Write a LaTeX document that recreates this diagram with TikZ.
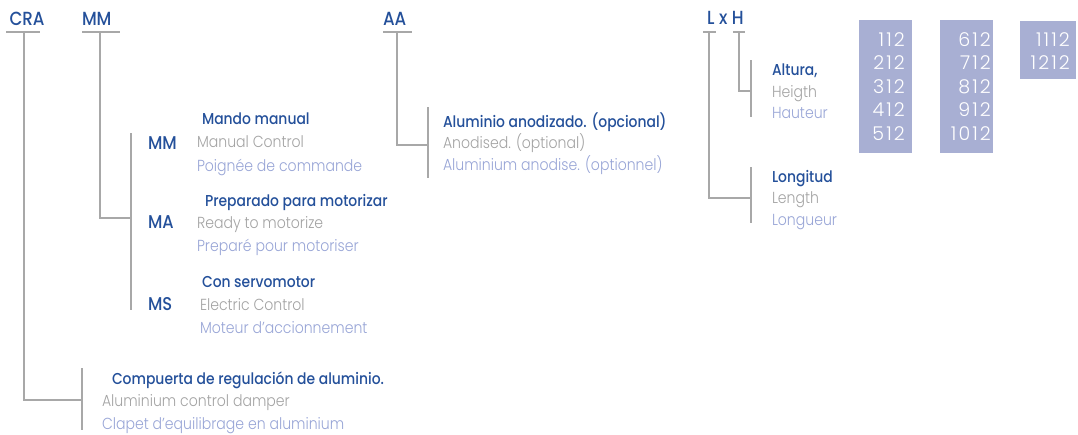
\documentclass[tikz,border=0pt]{standalone}
\usepackage{fontspec}
\IfFontExistsTF{Poppins Light}
  {\newfontfamily\lightfont[FakeStretch=0.88]{Poppins Light}
   \newfontfamily\numfont[LetterSpace=11]{Poppins Light}}
  {\newfontfamily\lightfont[FakeStretch=0.88]{Poppins}
   \newfontfamily\numfont[LetterSpace=11]{Poppins}}
\IfFontExistsTF{Poppins Medium}
  {\newfontfamily\mediumfont[FakeStretch=0.88]{Poppins Medium}}
  {\newfontfamily\mediumfont[FakeStretch=0.88]{Poppins}}
\definecolor{navy}{HTML}{24509A}
\definecolor{greytext}{HTML}{A3A3A3}
\definecolor{lavtext}{HTML}{98A5D6}
\definecolor{tabfill}{HTML}{A8AFD3}
\definecolor{rule}{HTML}{A8A8A8}
\tikzset{
  txt/.style={anchor=base west, inner sep=0pt, outer sep=0pt},
  codehead/.style={txt, text=navy, font=\mediumfont\fontsize{19}{19}\selectfont},
  codesub/.style={txt, text=navy, font=\mediumfont\fontsize{18.5}{18.5}\selectfont},
  es/.style={txt, text=navy, font=\mediumfont\fontsize{15.8}{15.8}\selectfont},
  en/.style={txt, text=greytext, font=\lightfont\fontsize{16}{16}\selectfont},
  fr/.style={txt, text=lavtext, font=\lightfont\fontsize{16}{16}\selectfont},
  num/.style={anchor=base east, inner sep=0pt, text=white, font=\numfont\fontsize{19}{19}\selectfont},
  link/.style={draw=rule, line width=1.2pt},
  tab/.style={fill=tabfill, draw=none},
}
\begin{document}
\begin{tikzpicture}[x=1pt, y=-1pt]
\useasboundingbox (0,0) rectangle (1078,434);

% --- reference code headings ---
\node[codehead] (cra) at (9.5,25) {CRA};
\node[codehead] (mmhead) at (82,25) {MM};
\node[codehead] (aa) at (383,25) {AA};
\node[codehead] (lxh) at (707,24) {L\hspace{4.6pt}x\hspace{4.6pt}H};

% underlines of the headings
\draw[link] (6,32) -- (40,32);
\draw[link] (82,32) -- (120,32);
\draw[link] (383,32) -- (412,32);
\draw[link] (703,32) -- (716,32);
\draw[link] (733,32) -- (745,32);

% --- bracket end points ---
\coordinate (craTop) at (24,32);
\coordinate (craBend) at (24,400);
\coordinate (craEnd) at (82,400);
\coordinate (craBarA) at (82,368);
\coordinate (craBarB) at (82,430);

\coordinate (mmTop) at (100,32);
\coordinate (mmBend) at (100,218);
\coordinate (mmEnd) at (131,218);
\coordinate (mmBarA) at (131,133);
\coordinate (mmBarB) at (131,310);

\coordinate (aaTop) at (397,32);
\coordinate (aaBend) at (397,145);
\coordinate (aaEnd) at (428,145);
\coordinate (aaBarA) at (428,107);
\coordinate (aaBarB) at (428,178);

\coordinate (lTop) at (709,32);
\coordinate (lBend) at (709,198);
\coordinate (lEnd) at (751,198);
\coordinate (lBarA) at (751,167);
\coordinate (lBarB) at (751,223);

\coordinate (hTop) at (739,32);
\coordinate (hBend) at (739,91);
\coordinate (hEnd) at (751,91);
\coordinate (hBarA) at (751,60);
\coordinate (hBarB) at (751,117);

% --- brackets ---
\draw[link] (craTop) -- (craBend) -- (craEnd);
\draw[link] (craBarA) -- (craBarB);
\draw[link] (mmTop) -- (mmBend) -- (mmEnd);
\draw[link] (mmBarA) -- (mmBarB);
\draw[link] (aaTop) -- (aaBend) -- (aaEnd);
\draw[link] (aaBarA) -- (aaBarB);
\draw[link] (lTop) -- (lBend) -- (lEnd);
\draw[link] (lBarA) -- (lBarB);
\draw[link] (hTop) -- (hBend) -- (hEnd);
\draw[link] (hBarA) -- (hBarB);

% --- control options ---
\node[codesub] (mm) at (148,149) {MM};
\node[es] (mmes) at (202,124) {Mando manual};
\node[en] (mmen) at (197,147) {Manual Control};
\node[fr] (mmfr) at (197,171) {Poignée de commande};

\node[codesub] (ma) at (148,228) {MA};
\node[es] (maes) at (205,206) {Preparado para motorizar};
\node[en] (maen) at (197,228) {Ready to motorize};
\node[fr] (mafr) at (197,251) {Preparé pour motoriser};

\node[codesub] (ms) at (148,310) {MS};
\node[es] (mses) at (202,287) {Con servomotor};
\node[en] (msen) at (200,310) {Electric Control};
\node[fr] (msfr) at (200,333) {Moteur d’accionnement};

% --- product ---
\node[es] (craes) at (112,384) {Compuerta de regulación de aluminio.};
\node[en] (craen) at (102,406) {Aluminium control damper};
\node[fr] (crafr) at (102,429) {Clapet d’equilibrage en aluminium};

% --- finish ---
\node[es] (aaes) at (443,127) {Aluminio anodizado. (opcional)};
\node[en] (aaen) at (443,148) {Anodised. (optional)};
\node[fr] (aafr) at (443,170) {Aluminium anodise. (optionnel)};

% --- dimensions ---
\node[es] (hes) at (772,75) {Altura,};
\node[en] (hen) at (772,97) {Heigth};
\node[fr] (hfr) at (772,118) {Hauteur};

\node[es] (les) at (772,182) {Longitud};
\node[en] (len) at (772,203) {Length};
\node[fr] (lfr) at (772,225) {Longueur};

% --- size table ---
\fill[tab] (859,20) rectangle (912,153);
\fill[tab] (940,20) rectangle (993,153);
\fill[tab] (1020,21) rectangle (1076,79);

% the tracking adds a trailing gap, so the right edge sits a little further out
\foreach \v [count=\i] in {112,212,312,412,512}
  \node[num] (ca\i) at (905,{46+23.5*(\i-1)}) {\v};
\foreach \v [count=\i] in {612,712,812,912,1012}
  \node[num] (cb\i) at (991,{46+23.5*(\i-1)}) {\v};
\foreach \v [count=\i] in {1112,1212}
  \node[num] (cc\i) at (1070,{46+23.5*(\i-1)}) {\v};
\end{tikzpicture}
\end{document}
